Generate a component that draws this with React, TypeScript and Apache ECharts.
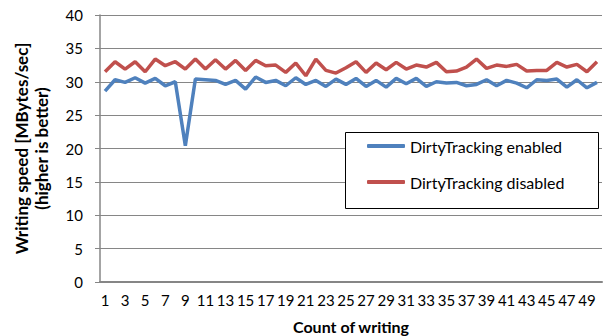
import React, { useEffect, useRef } from "react";
import * as echarts from "echarts";

const categories: string[] = Array.from({ length: 50 }, (_, i) => String(i + 1));

const enabledValues: number[] = [
  28.6, 30.3, 29.9, 30.6, 29.8, 30.5, 29.4, 30.0, 20.4, 30.4,
  30.3, 30.2, 29.6, 30.2, 28.9, 30.7, 29.9, 30.2, 29.4, 30.6,
  29.6, 30.2, 29.3, 30.4, 29.6, 30.5, 29.3, 30.2, 29.2, 30.5,
  29.7, 30.5, 29.3, 30.0, 29.8, 29.9, 29.4, 29.6, 30.3, 29.4,
  30.2, 29.8, 29.1, 30.3, 30.2, 30.4, 29.2, 30.3, 29.1, 29.9,
];

const disabledValues: number[] = [
  31.5, 33.0, 31.9, 33.0, 31.5, 33.4, 32.4, 33.0, 31.9, 33.4,
  31.9, 33.3, 31.9, 33.2, 31.7, 33.2, 32.4, 32.5, 31.4, 32.8,
  30.9, 33.4, 31.7, 31.3, 32.1, 33.0, 31.4, 32.8, 31.8, 32.9,
  31.9, 32.5, 32.2, 32.9, 31.5, 31.6, 32.2, 33.4, 32.0, 32.5,
  32.3, 32.6, 31.6, 31.7, 31.7, 32.9, 32.2, 32.6, 31.5, 33.0,
];

const seriesNames = ["DirtyTracking enabled", "DirtyTracking disabled"];
const yAxisTitle = "Writing speed [MBytes/sec]\n(higher is better)";
const xAxisTitle = "Count of writing";

const FONT = "Lato, 'Liberation Sans', sans-serif";

export default function App() {
  const ref = useRef<HTMLDivElement>(null);
  useEffect(() => {
    if (!ref.current) return;
    const chart = echarts.init(ref.current, undefined, { renderer: "svg" });
    chart.setOption({
      animation: false,
      backgroundColor: "#ffffff",
      textStyle: { fontFamily: FONT },
      grid: {
        left: 100,
        top: 15,
        right: 1,
        bottom: 54,
        containLabel: false,
        outerBoundsMode: "none",
      },
      xAxis: {
        type: "category",
        data: categories,
        boundaryGap: true,
        name: xAxisTitle,
        nameLocation: "middle",
        nameGap: 36,
        nameTextStyle: { fontFamily: FONT, fontWeight: "bold", fontSize: 16, color: "#000" },
        axisLine: { lineStyle: { color: "#868686", width: 2 } },
        axisTick: { show: false },
        axisLabel: { interval: 1, color: "#000", fontSize: 15, margin: 10, fontFamily: FONT },
        splitLine: { show: false },
      },
      yAxis: {
        type: "value",
        min: 0,
        max: 40,
        interval: 5,
        name: yAxisTitle,
        nameLocation: "middle",
        nameGap: 49,
        nameRotate: 90,
        nameTextStyle: {
          fontFamily: FONT,
          fontWeight: "bold",
          fontSize: 17,
          color: "#000",
          lineHeight: 20,
          align: "center",
        },
        axisLine: { show: true, lineStyle: { color: "#868686", width: 1.5 } },
        axisTick: { show: true, length: 5, lineStyle: { color: "#868686" } },
        axisLabel: { color: "#000", fontSize: 15, margin: 17, fontFamily: FONT },
        splitLine: { show: true, lineStyle: { color: "#868686", width: 1 } },
      },
      legend: {
        orient: "vertical",
        left: 367,
        top: 137,
        padding: 0,
        z: 60,
        itemWidth: 38,
        itemHeight: 4,
        itemGap: 18,
        icon: "roundRect",
        textStyle: { fontFamily: FONT, fontSize: 16, color: "#000", lineHeight: 18 },
        data: seriesNames,
      },
      graphic: [
        {
          type: "rect",
          shape: { x: 345.5, y: 132.5, width: 253, height: 76 },
          style: { fill: "#ffffff", stroke: "#000000", lineWidth: 1 },
          z: 50,
        },
      ],
      series: [
        {
          name: seriesNames[0],
          type: "line",
          data: enabledValues,
          showSymbol: false,
          symbol: "none",
          lineStyle: { color: "#4F81BD", width: 3.5 },
          itemStyle: { color: "#4F81BD" },
        },
        {
          name: seriesNames[1],
          type: "line",
          data: disabledValues,
          showSymbol: false,
          symbol: "none",
          lineStyle: { color: "#C0504D", width: 3.5 },
          itemStyle: { color: "#C0504D" },
        },
      ],
    });
    return () => chart.dispose();
  }, []);
  return (
    <div
      ref={ref}
      style={{ position: "fixed", left: 0, top: 0, width: 603, height: 336 }}
    />
  );
}
